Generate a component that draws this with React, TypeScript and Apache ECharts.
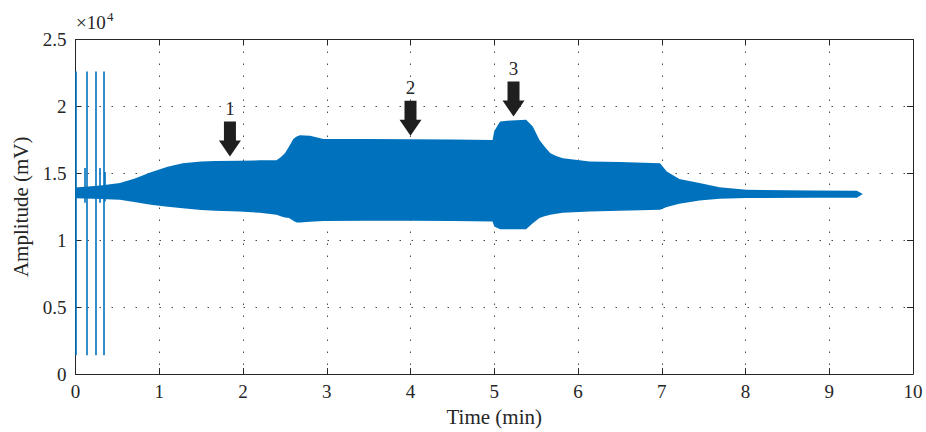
import React, { useEffect, useRef } from "react";
import * as echarts from "echarts";

// Envelope of the recorded signal (time in min, amplitude in mV)
const envTime = [0, 0.3, 0.53, 0.7, 0.9, 1.1, 1.28, 1.5, 1.67, 1.96, 2.2, 2.4, 2.45, 2.5, 2.55, 2.6, 2.64, 2.68, 2.8, 2.96, 3.5, 4.0, 4.5, 4.98, 5.0, 5.07, 5.2, 5.38, 5.46, 5.54, 5.6, 5.67, 5.74, 5.82, 6.14, 6.5, 6.98, 7.06, 7.21, 7.45, 7.69, 8.01, 8.8, 9.33, 9.4];
const envUpper = [13950, 14100, 14270, 14600, 15090, 15500, 15760, 15880, 15930, 15950, 15970, 15970, 16200, 16500, 17000, 17570, 17750, 17850, 17800, 17570, 17560, 17550, 17530, 17500, 18170, 18870, 18950, 19000, 18500, 17500, 17000, 16500, 16300, 16130, 15880, 15850, 15760, 15140, 14570, 14270, 13970, 13770, 13720, 13700, 13450];
const envLower = [13130, 13080, 13020, 12850, 12650, 12500, 12400, 12260, 12200, 12150, 12050, 11900, 11800, 11700, 11660, 11450, 11330, 11330, 11380, 11430, 11450, 11460, 11430, 11400, 11030, 10830, 10830, 10830, 11280, 11660, 11800, 11900, 11980, 12050, 12150, 12200, 12280, 12480, 12720, 12970, 13100, 13150, 13170, 13180, 13450];

// Start-up transients (tall and short spikes)
const spikeTime = [0.006, 0.134, 0.241, 0.337, 0.105, 0.293, 0.355];
const spikeTop = [22600, 22600, 22600, 22600, 15400, 15400, 15100];
const spikeBottom = [1400, 1400, 1400, 1400, 12800, 12800, 12900];

// Annotation arrows
const arrowLabels = ["1", "2", "3"];
const arrowTime = [1.844, 4.0, 5.23];
const arrowTipAmp = [16250, 17800, 19240];

// Axes
const xMin = 0, xMax = 10, xStep = 1;
const yMin = 0, yMax = 25000, yStep = 5000;
const yScale = 10000;

const FONT = "Liberation Serif";
const INK = "#262626";
const BLUE = "#0072BD";

export default function App() {
  const ref = useRef<HTMLDivElement>(null);
  useEffect(() => {
    if (!ref.current) return;
    const chart = echarts.init(ref.current, null, { renderer: "svg" });
    const gridDots = { show: true, lineStyle: { color: "#4a4a4a", width: 1, type: [1.5, 10.5] as any } };
    const option: any = {
      animation: false,
      backgroundColor: "#ffffff",
      grid: { left: 75.5, right: 13, top: 39.5, bottom: 57.5, containLabel: false },
      xAxis: [
        {
          type: "value", min: xMin, max: xMax, interval: xStep, position: "bottom",
          name: "Time (min)", nameLocation: "middle", nameGap: 31,
          nameTextStyle: { fontFamily: FONT, fontSize: 21, color: INK },
          axisLine: { show: true, onZero: false, lineStyle: { color: INK, width: 1 } },
          axisTick: { show: true, inside: true, length: 6, lineStyle: { color: INK } },
          axisLabel: { fontFamily: FONT, fontSize: 19, color: INK, margin: 8 },
          splitLine: gridDots,
        },
        {
          type: "value", min: xMin, max: xMax, interval: xStep, position: "top",
          axisLine: { show: true, onZero: false, lineStyle: { color: INK, width: 1 } },
          axisTick: { show: true, inside: true, length: 6, lineStyle: { color: INK } },
          axisLabel: { show: false }, splitLine: { show: false },
        },
      ],
      yAxis: [
        {
          type: "value", min: yMin, max: yMax, interval: yStep, position: "left",
          name: "Amplitude (mV)", nameLocation: "middle", nameGap: 44,
          nameTextStyle: { fontFamily: FONT, fontSize: 21, color: INK },
          axisLine: { show: true, onZero: false, lineStyle: { color: INK, width: 1 } },
          axisTick: { show: true, inside: true, length: 6, lineStyle: { color: INK } },
          axisLabel: { fontFamily: FONT, fontSize: 19, color: INK, margin: 9, formatter: (v: number) => String(v / yScale) },
          splitLine: gridDots,
        },
        {
          type: "value", min: yMin, max: yMax, interval: yStep, position: "right",
          axisLine: { show: true, onZero: false, lineStyle: { color: INK, width: 1 } },
          axisTick: { show: true, inside: true, length: 6, lineStyle: { color: INK } },
          axisLabel: { show: false }, splitLine: { show: false },
        },
      ],
      graphic: [
        {
          type: "text", x: 76, y: 22.8,
          style: { text: "×10", fontFamily: FONT, fontSize: 19, fill: INK, align: "left", verticalAlign: "middle" },
        },
        {
          type: "text", x: 107, y: 16.2,
          style: { text: "4", fontFamily: FONT, fontSize: 13, fill: INK, align: "left", verticalAlign: "middle" },
        },
      ],
      series: [
        {
          type: "custom",
          name: "band",
          xAxisIndex: 0, yAxisIndex: 0,
          data: [[envTime[0], envUpper[0]]],
          renderItem: (_params: any, api: any) => {
            const pts: number[][] = [];
            for (let i = 0; i < envTime.length; i++) pts.push(api.coord([envTime[i], envUpper[i]]));
            for (let i = envTime.length - 1; i >= 0; i--) pts.push(api.coord([envTime[i], envLower[i]]));
            return { type: "polygon", shape: { points: pts }, style: { fill: BLUE } };
          },
          z: 2,
        },
        {
          type: "lines",
          coordinateSystem: "cartesian2d",
          xAxisIndex: 0, yAxisIndex: 0,
          polyline: false,
          lineStyle: { color: BLUE, width: 1.6, opacity: 1 },
          data: spikeTime.map((t, i) => ({ coords: [[t, spikeBottom[i]], [t, spikeTop[i]]] })),
          z: 3,
        },
        {
          type: "custom",
          name: "arrows",
          xAxisIndex: 0, yAxisIndex: 0,
          data: arrowTime.map((t, i) => [t, arrowTipAmp[i]]),
          renderItem: (params: any, api: any) => {
            const p = api.coord([api.value(0), api.value(1)]);
            const x = p[0], y = p[1];
            return {
              type: "group",
              children: [
                {
                  type: "polygon",
                  shape: {
                    points: [
                      [x, y], [x + 11, y - 16], [x + 6, y - 16], [x + 6, y - 35],
                      [x - 6, y - 35], [x - 6, y - 16], [x - 11, y - 16],
                    ],
                  },
                  style: { fill: "#1f1f1f" },
                },
                {
                  type: "text",
                  x: x, y: y - 48,
                  style: {
                    text: arrowLabels[params.dataIndex],
                    fontFamily: FONT, fontSize: 19, fill: INK,
                    align: "center", verticalAlign: "middle",
                  },
                },
              ],
            };
          },
          z: 4,
        },
      ],
    };
    chart.setOption(option);
    return () => chart.dispose();
  }, []);
  return <div ref={ref} style={{ position: "fixed", left: 0, top: 0, width: 926, height: 432, background: "#fff" }} />;
}
